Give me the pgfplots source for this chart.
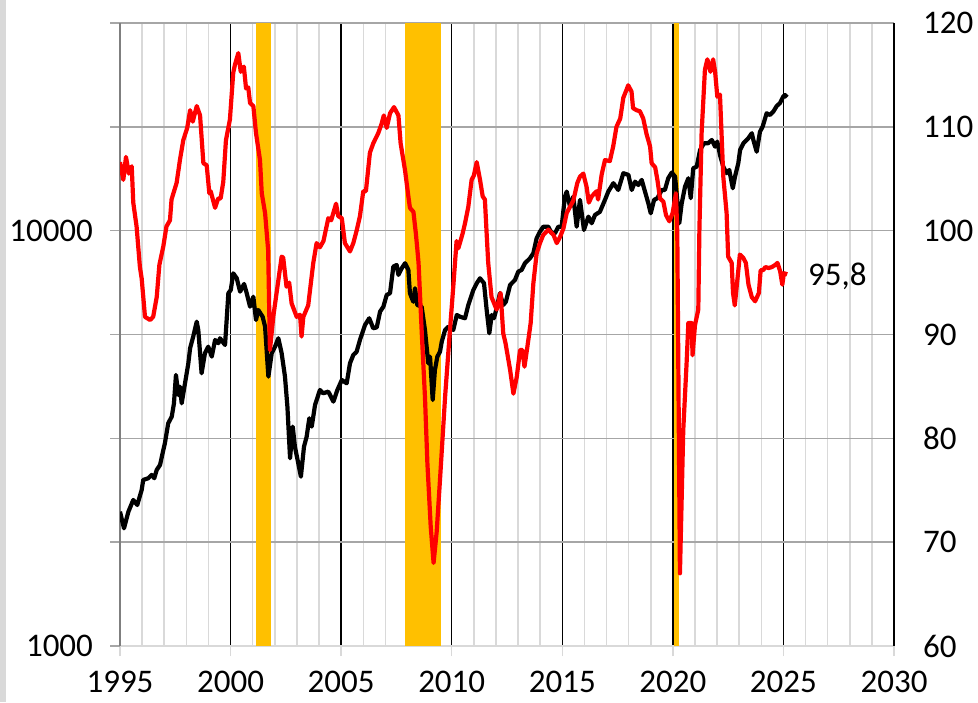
\documentclass[border=0pt]{standalone}
\usepackage{fontspec}
\setmainfont{Carlito}
\usepackage{pgfplots}
\pgfplotsset{compat=1.18}
\usepackage{pgfplotstable}
\definecolor{band}{HTML}{FFC000}
\definecolor{xlgrey}{HTML}{D9D9D9}
\definecolor{hgrey}{HTML}{A6A6A6}
\definecolor{axgrey}{HTML}{7F7F7F}
\definecolor{stripgrey}{HTML}{D9D9D9}

\pgfplotstableread{
year val
1995.00 2106
1995.18 1920
1995.38 2106
1995.60 2247
1995.78 2185
1995.98 2375
1996.05 2511
1996.28 2535
1996.43 2582
1996.55 2535
1996.66 2654
1996.81 2728
1996.96 2965
1997.03 3077
1997.18 3437
1997.34 3566
1997.44 3841
1997.53 4493
1997.64 4021
1997.71 4211
1997.79 3841
1997.94 4291
1998.09 4794
1998.17 5211
1998.31 5556
1998.47 6038
1998.54 5767
1998.69 4535
1998.84 5067
1998.99 5256
1999.15 4973
1999.30 5455
1999.45 5357
1999.52 5507
1999.75 5306
1999.90 7069
2000.01 7199
2000.12 7896
2000.28 7680
2000.43 7131
2000.61 7443
2000.73 7069
2000.88 6561
2001.03 6935
2001.15 6095
2001.25 6443
2001.45 6207
2001.56 5873
2001.71 4451
2001.86 5067
2002.01 5256
2002.16 5507
2002.31 5067
2002.46 4451
2002.57 3769
2002.69 2831
2002.81 3374
2002.91 3019
2003.06 2754
2003.18 2557
2003.32 3019
2003.44 3191
2003.56 3534
2003.67 3374
2003.82 3805
2004.04 4134
2004.19 4059
2004.42 4097
2004.65 3876
2004.83 4134
2005.03 4370
2005.25 4290
2005.40 4794
2005.55 5020
2005.70 5112
2005.85 5455
2006.08 5928
2006.27 6153
2006.45 5821
2006.61 5850
2006.76 6383
2006.91 6561
2007.06 7001
2007.21 7069
2007.36 8190
2007.51 8268
2007.59 7823
2007.74 8117
2007.89 8347
2008.04 8042
2008.11 7069
2008.26 6745
2008.34 7267
2008.44 6623
2008.64 6561
2008.79 5767
2008.94 4794
2009.02 4973
2009.14 3912
2009.24 4619
2009.35 4973
2009.47 5112
2009.55 5404
2009.70 5767
2009.85 5873
2010.07 5767
2010.23 6266
2010.37 6207
2010.60 6153
2010.75 6623
2010.98 7199
2011.13 7470
2011.28 7680
2011.46 7470
2011.58 6443
2011.70 5662
2011.81 6266
2011.91 6153
2012.03 6503
2012.18 7069
2012.33 6623
2012.45 6745
2012.64 7400
2012.86 7608
2013.01 7968
2013.16 8042
2013.31 8347
2013.54 8580
2013.69 8822
2013.84 9587
2013.99 9945
2014.14 10220
2014.37 10220
2014.52 9856
2014.67 9856
2014.82 10220
2014.97 10220
2015.12 12080
2015.20 12420
2015.35 11430
2015.50 12080
2015.65 10220
2015.80 11860
2015.98 10040
2016.18 10810
2016.33 10420
2016.48 10910
2016.70 11100
2016.93 11860
2017.08 12420
2017.31 13010
2017.53 12530
2017.76 13750
2017.99 13620
2018.14 12530
2018.29 13120
2018.44 12880
2018.59 13250
2018.74 12420
2018.89 11640
2019.00 11010
2019.15 11860
2019.30 11970
2019.50 12530
2019.64 12530
2019.79 13370
2019.95 13800
2020.10 13490
2020.17 12300
2020.29 10420
2020.40 11640
2020.55 12760
2020.70 13370
2020.81 11970
2020.92 14130
2021.08 14260
2021.23 15640
2021.41 16230
2021.59 16230
2021.76 16530
2021.91 15930
2022.01 16380
2022.13 15220
2022.28 14260
2022.43 13750
2022.55 14000
2022.71 12650
2022.81 13490
2022.96 14540
2023.04 15640
2023.19 16230
2023.41 16690
2023.57 17160
2023.64 16530
2023.79 15490
2023.94 17310
2024.06 17800
2024.24 19170
2024.39 18990
2024.54 19340
2024.70 19970
2024.84 20270
2024.99 21020
2025.07 21210
2025.17 20950
}\blackdata

\pgfplotstableread{
year val
1995.00 106.6
1995.15 104.9
1995.27 107.1
1995.40 105.5
1995.53 106.2
1995.60 102.7
1995.75 100.4
1995.90 96.5
1995.98 95.4
1996.13 91.7
1996.36 91.4
1996.50 91.7
1996.66 93.6
1996.78 96.7
1996.96 98.5
1997.10 100.4
1997.26 101.0
1997.33 103.0
1997.56 104.6
1997.71 106.8
1997.86 108.7
1998.04 109.9
1998.17 111.6
1998.29 110.5
1998.47 112.0
1998.62 111.1
1998.77 106.5
1998.92 106.3
1999.04 103.6
1999.10 103.8
1999.30 102.2
1999.44 103.1
1999.55 103.1
1999.67 104.7
1999.79 108.7
1999.97 110.7
2000.12 115.2
2000.20 116.0
2000.35 117.1
2000.46 115.3
2000.60 115.8
2000.70 113.7
2000.80 113.8
2000.88 112.3
2001.03 112.0
2001.15 109.4
2001.33 106.8
2001.41 103.6
2001.56 101.7
2001.70 98.1
2001.78 88.5
2001.93 91.7
2002.08 94.0
2002.31 97.5
2002.38 97.4
2002.53 94.6
2002.65 95.0
2002.76 93.0
2002.99 91.7
2003.14 91.9
2003.21 89.8
2003.29 91.7
2003.51 92.8
2003.74 96.9
2003.89 98.8
2004.04 98.4
2004.20 99.0
2004.27 99.7
2004.42 101.2
2004.55 101.0
2004.77 102.6
2004.87 101.4
2005.03 101.2
2005.17 98.8
2005.40 98.0
2005.55 98.8
2005.70 100.0
2005.85 101.4
2006.00 103.8
2006.12 103.8
2006.30 107.5
2006.45 108.4
2006.68 109.4
2006.83 110.3
2006.93 111.1
2007.06 109.9
2007.21 111.3
2007.39 111.9
2007.59 111.1
2007.69 108.4
2007.89 105.8
2008.04 103.3
2008.11 102.2
2008.27 101.8
2008.38 99.7
2008.45 98.1
2008.50 96.9
2008.64 90.4
2008.79 84.0
2008.90 77.6
2009.05 71.5
2009.18 68.0
2009.32 71.0
2009.47 76.0
2009.70 84.0
2009.92 90.4
2010.07 94.6
2010.22 99.0
2010.30 98.3
2010.49 99.7
2010.60 100.7
2010.75 102.3
2010.90 104.9
2011.00 105.3
2011.13 106.6
2011.28 104.9
2011.40 103.3
2011.50 103.0
2011.58 99.7
2011.65 96.9
2011.80 93.6
2012.03 92.4
2012.21 94.0
2012.33 90.1
2012.43 89.2
2012.64 86.6
2012.79 84.3
2012.94 85.9
2013.09 88.5
2013.20 88.5
2013.29 86.9
2013.42 88.8
2013.57 91.1
2013.69 94.9
2013.84 97.8
2013.99 98.8
2014.14 99.6
2014.37 100.1
2014.60 99.6
2014.75 98.8
2014.90 99.4
2015.05 100.2
2015.20 101.7
2015.35 102.3
2015.50 102.9
2015.68 104.6
2015.80 105.2
2015.95 105.5
2016.10 104.2
2016.20 102.7
2016.33 103.3
2016.55 103.8
2016.62 103.0
2016.78 105.4
2016.93 106.8
2017.15 106.7
2017.30 108.1
2017.45 110.0
2017.62 110.8
2017.76 112.8
2017.91 113.6
2017.98 114.0
2018.13 113.4
2018.20 111.8
2018.36 111.6
2018.51 111.5
2018.66 110.8
2018.81 109.3
2018.97 108.1
2019.04 106.5
2019.20 106.1
2019.30 104.9
2019.42 103.1
2019.57 102.8
2019.69 101.5
2019.84 100.9
2019.99 101.7
2020.14 103.6
2020.20 99.8
2020.32 67.0
2020.47 80.8
2020.62 87.2
2020.70 91.1
2020.85 91.1
2020.89 88.0
2021.00 90.9
2021.15 92.4
2021.20 100.1
2021.30 109.4
2021.45 115.5
2021.56 116.5
2021.70 115.3
2021.82 116.5
2021.91 115.3
2022.01 112.9
2022.13 113.1
2022.28 105.2
2022.43 101.7
2022.50 97.5
2022.66 96.9
2022.72 94.0
2022.80 92.8
2022.90 94.9
2023.03 97.7
2023.18 97.4
2023.30 96.9
2023.42 94.8
2023.57 93.6
2023.72 93.2
2023.89 94.0
2023.97 96.2
2024.09 96.2
2024.18 96.5
2024.33 96.4
2024.48 96.5
2024.63 96.7
2024.73 96.9
2024.85 96.1
2024.95 94.8
2025.02 95.9
2025.17 95.8
}\reddata

\pgfplotsset{
  base/.style={
    scale only axis, width=387pt, height=311.5pt,
    xmin=1995, xmax=2030,
    /pgf/number format/assume math mode=true,
    /pgf/number format/1000 sep={},
    tick label style={font=\fontsize{16.5}{19}\selectfont},
  }
}

\begin{document}
\begin{tikzpicture}
\useasboundingbox (-60pt,-28pt) rectangle (429pt,323pt);
\fill[stripgrey] (-60pt,-28pt) rectangle (-57pt,323pt);

% grid, bands, x labels
\begin{axis}[base,
  ymin=60, ymax=120,
  axis x line*=bottom, axis y line*=left,
  x axis line style={-, draw=xlgrey, line width=1pt},
  y axis line style={-, draw=axgrey, line width=0.9pt},
  xtick={1995,2000,...,2030},
  minor x tick num=4,
  xmajorgrids, xminorgrids,
  major x grid style={black, line width=0.75pt},
  minor x grid style={xlgrey, line width=0.75pt},
  ytick={60,70,...,120}, ymajorgrids,
  major y grid style={hgrey, line width=0.75pt},
  yticklabels={},
  tick align=outside, major tick length=5pt, minor tick length=0pt,
  x tick style={xlgrey, line width=0.75pt},
  y tick style={hgrey, line width=0.75pt},
  xticklabel style={yshift=-4pt},
]
\addplot[fill=band, draw=none] coordinates {(2001.17,120) (2001.83,120)} \closedcycle;
\addplot[fill=band, draw=none] coordinates {(2007.89,120) (2009.52,120)} \closedcycle;
\addplot[fill=band, draw=none] coordinates {(2020.06,120) (2020.28,120)} \closedcycle;
\end{axis}

% black series, left log axis
\begin{axis}[base,
  ymode=log, ymin=1000, ymax=31622.8,
  hide x axis, axis y line*=left,
  y axis line style={draw=none},
  ytick={1000,10000}, yticklabels={1000,10000},
  major tick length=0pt, minor tick length=0pt,
  yminorticks=false,
  yticklabel style={anchor=east, xshift=-10pt},
]
\addplot[black, line width=2.1pt, line join=round] table[x=year, y=val] {\blackdata};
\end{axis}

% red series, right axis
\begin{axis}[base,
  ymin=60, ymax=120,
  hide x axis, axis y line*=right,
  y axis line style={-, draw=black, line width=0.9pt},
  ytick={60,70,...,120},
  major tick length=0pt,
  yticklabel style={anchor=west, xshift=11pt},
]
\addplot[red, line width=2.1pt, line join=round] table[x=year, y=val] {\reddata};
\node[anchor=west, inner sep=0pt, font=\fontsize{16.5}{19}\selectfont] at (axis cs:2026.1,95.6) {95,8};
\end{axis}
\end{tikzpicture}
\end{document}
